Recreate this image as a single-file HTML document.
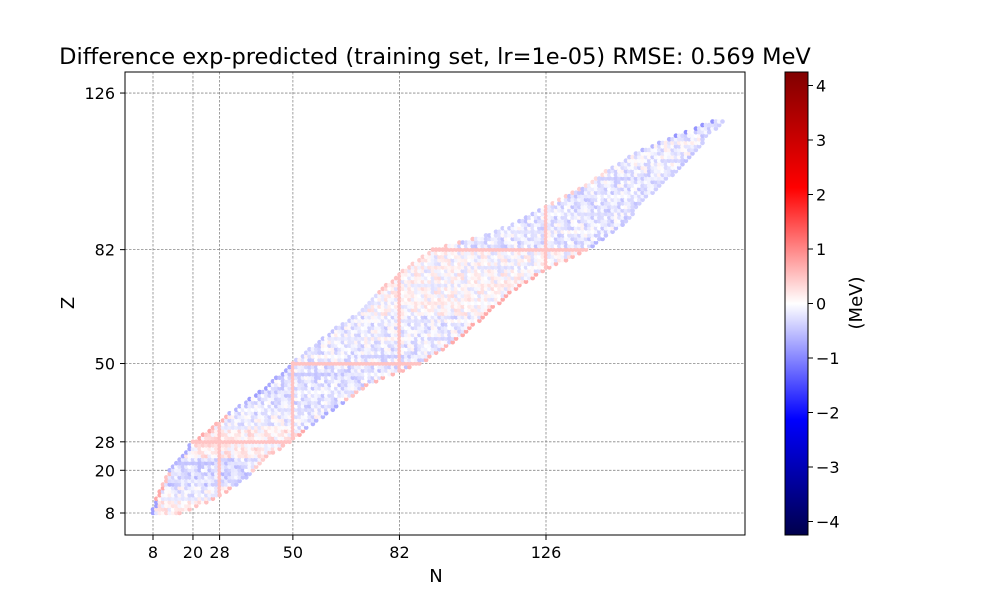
<!DOCTYPE html>
<html><head><meta charset="utf-8">
<style>
body{margin:0;background:#fff;font-family:"Liberation Sans","DejaVu Sans",sans-serif;}
svg text{font-family:"DejaVu Sans","Liberation Sans",sans-serif;fill:#000;}
</style></head>
<body>
<svg id="chart" width="1000" height="600" viewBox="0 0 1000 600">
<defs>
<linearGradient id="seis" x1="0" y1="1" x2="0" y2="0">
<stop offset="0" stop-color="#00004c"/>
<stop offset="0.25" stop-color="#0000ff"/>
<stop offset="0.5" stop-color="#ffffff"/>
<stop offset="0.75" stop-color="#ff0000"/>
<stop offset="1" stop-color="#800000"/>
</linearGradient>
<clipPath id="pc"><rect x="125" y="72" width="620" height="463"/></clipPath>
</defs>
<text x="435" y="64" font-size="22.5" text-anchor="middle">Difference exp-predicted (training set, lr=1e-05)  RMSE: 0.569 MeV</text>
<g id="grid"></g>
<g id="pts" clip-path="url(#pc)"></g>
<rect x="125" y="72" width="620" height="463" fill="none" stroke="#000" stroke-width="1"/>
<g id="ticks"></g>
<text x="436" y="582" font-size="18" text-anchor="middle">N</text>
<text x="74" y="303" font-size="18" text-anchor="middle" transform="rotate(-90 74 303)">Z</text>
<rect x="785" y="72" width="23" height="463" fill="url(#seis)" stroke="#000" stroke-width="1"/>
<g id="cbt"></g>
<text x="862" y="303" font-size="18" text-anchor="middle" transform="rotate(-90 862 303)">(MeV)</text>
</svg>
<script>
const xTicks=[8,20,28,50,82,126];
const yTicks=[8,20,28,50,82,126];
const cbTicks=[4,3,2,1,0,-1,-2,-3,-4];
const rowZ  =[8,12,16,20,24,28,32,36,40,44,50,56,60,64,70,76,82,86,90,95,100,105,110,114,118];
const rowNlo=[8,9,11,13,17,20,26,31,37,43,50,58,63,70,76,83,92,108,118,128,138,146,155,165,176];
const rowNhi=[16,26,33,38,42,49,54,60,66,72,88,98,103,108,115,125,138,144,150,154,160,166,171,174,179];
const rowMid=[0.1,-0.1,-0.3,-0.25,0.15,0.15,-0.1,-0.2,-0.2,-0.2,-0.15,-0.1,-0.15,0.05,0.05,0.0,-0.2,-0.15,-0.2,-0.2,-0.15,-0.1,-0.1,-0.2,-0.2];
const rowLoEdge=[-0.8,0.7,0.5,-0.6,-0.7,0.7,0.6,-0.6,-0.8,-0.7,-0.4,-0.5,-0.4,-0.3,0.5,0.4,0.5,-0.4,-0.5,0.4,0.3,-0.4,-0.6,-0.9,-1.5];
const rowHiEdge=[0.5,0.6,-0.5,0.4,0.5,0.7,-0.6,-0.7,0.5,0.6,0.6,0.7,0.7,0.7,0.7,0.6,-0.6,-0.5,-0.4,-0.4,-0.4,-0.5,-0.4,-0.4,3.5];
const jitter=[0.15,-0.2,0.05,-0.1,0.25,-0.25,0.0,0.12,-0.12,0.08,-0.3,0.2,-0.05];
const magicN=[28,50,82,126];
const magicZ=[28,50,82];
const magicVal=0.5;

const NS='http://www.w3.org/2000/svg';
const xS=n=>153+(n-8)*3.3305;
const yS=z=>513-(z-8)*3.559;
const cS=v=>303.5-v*54.5;
function mk(tag,attrs,parent){const e=document.createElementNS(NS,tag);for(const k in attrs)e.setAttribute(k,attrs[k]);parent.appendChild(e);return e;}
const vmax=4.25, vmin=-4.25;
function seis(v){let t=(v-vmin)/(vmax-vmin);t=Math.max(0,Math.min(1,t));
 let r,g,b;
 if(t<0.25){const u=t/0.25;r=0;g=0;b=76+u*179;}
 else if(t<0.5){const u=(t-0.25)/0.25;r=255*u;g=255*u;b=255;}
 else if(t<0.75){const u=(t-0.5)/0.25;r=255;g=255*(1-u);b=255*(1-u);}
 else{const u=(t-0.75)/0.25;r=255-127*u;g=0;b=0;}
 return `rgb(${r|0},${g|0},${b|0})`;}
const grid=document.getElementById('grid'),tk=document.getElementById('ticks'),pts=document.getElementById('pts'),cbt=document.getElementById('cbt');
xTicks.forEach(n=>{
 const l=mk('line',{x1:xS(n),x2:xS(n),y1:72,y2:535,stroke:'#888','stroke-width':0.8,'stroke-dasharray':'2.5,1.5'},grid);
 
 
 mk('line',{x1:xS(n),x2:xS(n),y1:535,y2:540,stroke:'#000'},tk);
 const t=mk('text',{x:xS(n),y:558,'font-size':16,'text-anchor':'middle'},tk);t.textContent=n;
 
 
});
yTicks.forEach(z=>{
 const l=mk('line',{x1:125,x2:745,y1:yS(z),y2:yS(z),stroke:'#888','stroke-width':0.8,'stroke-dasharray':'2.5,1.5'},grid);
 
 
 mk('line',{x1:120,x2:125,y1:yS(z),y2:yS(z),stroke:'#000'},tk);
 const t=mk('text',{x:115,y:yS(z)+6,'font-size':16,'text-anchor':'end'},tk);t.textContent=z;
 
 
});
cbTicks.forEach(v=>{
 mk('line',{x1:808,x2:813,y1:cS(v),y2:cS(v),stroke:'#000'},cbt);
 const t=mk('text',{x:816,y:cS(v)+6,'font-size':16},cbt);t.textContent=(v<0?'\u2212'+(-v):v);
 
 
});
for(let i=0;i<rowZ.length-1;i++){
 for(let z=rowZ[i];z<rowZ[i+1]||(i==rowZ.length-2&&z<=rowZ[i+1]);z++){
  const f=(z-rowZ[i])/(rowZ[i+1]-rowZ[i]);
  const lo=Math.round(rowNlo[i]+(rowNlo[i+1]-rowNlo[i])*f);
  const hi=Math.round(rowNhi[i]+(rowNhi[i+1]-rowNhi[i])*f);
  for(let n=lo;n<=hi;n++){
   let v=rowMid[i]+jitter[(n*7+z*11+((n*z)%5))%jitter.length];
   if(n-lo<1)v=rowLoEdge[i];
   if(hi-n<1)v=rowHiEdge[i];
   if(magicN.includes(n)||magicZ.includes(z))v=magicVal;
   const c=mk('circle',{cx:xS(n).toFixed(1),cy:yS(z).toFixed(1),r:2.3,fill:seis(v)},pts);
   
   
  }
 }
}
</script>
</body></html>
